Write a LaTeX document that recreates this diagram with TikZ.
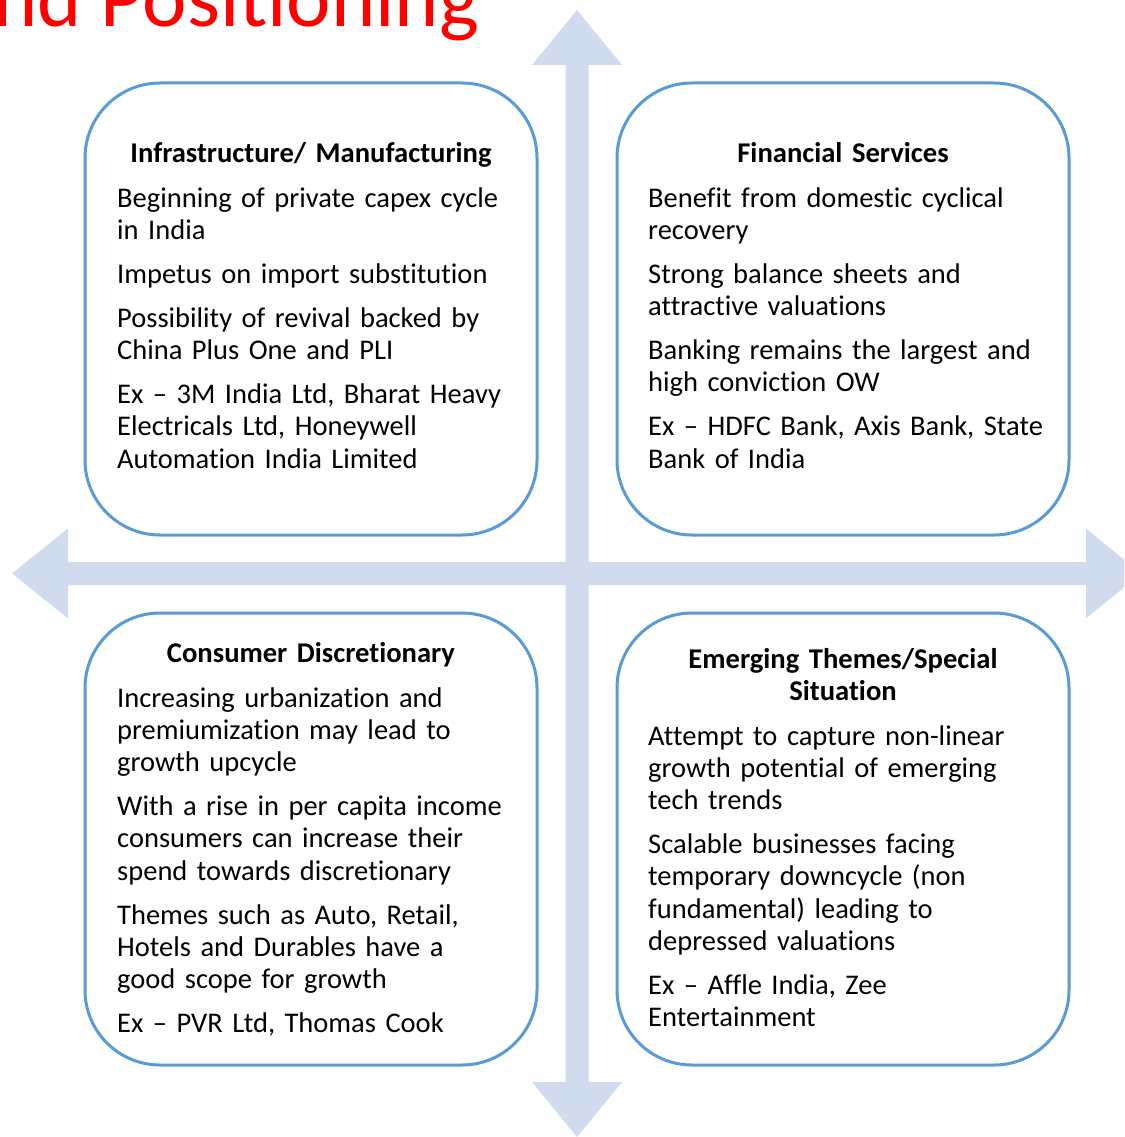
\documentclass[tikz,border=0pt]{standalone}
\usepackage{fontspec}
\setmainfont{Carlito}[Ligatures={TeX,NoCommon}]
\definecolor{arrowfill}{RGB}{208,220,238}
\definecolor{boxline}{RGB}{91,155,213}
\begin{document}
\begin{tikzpicture}[x=1pt,y=-1pt,
  quad/.style={draw=boxline, line width=3pt, rounded corners=75pt, minimum width=452pt, minimum height=452pt, inner sep=0pt, fill=white},
  head/.style={font=\bfseries\fontsize{28.6}{32.3}\selectfont, anchor=base, align=center, text width=440pt, inner sep=0pt},
  body/.style={font=\fontsize{28.5}{32.3}\selectfont, anchor=base west, align=left, text width=425pt, inner sep=0pt}]
\useasboundingbox (0,0) rectangle (1124,1137);
\begin{scope}
\clip (0,0) rectangle (1124,1137);
\node[anchor=base west, inner sep=0pt, text=red, font=\fontsize{84.3}{90}\selectfont] (title) at (-7,27) {nd Positioning};
\fill[arrowfill] (577,10) -- (622,65) -- (588.5,65) -- (588.5,562) -- (1086,562) -- (1086,528.5) -- (1141,573.5) -- (1086,618.5) -- (1086,585) -- (588.5,585) -- (588.5,1082) -- (622,1082) -- (577,1137) -- (532,1082) -- (565.5,1082) -- (565.5,585) -- (68,585) -- (68,618.5) -- (12,573.5) -- (68,528.5) -- (68,562) -- (565.5,562) -- (565.5,65) -- (532,65) -- cycle;
\end{scope}
\node[quad] (tl) at (311,309) {};
\node[quad] (tr) at (843,309) {};
\node[quad] (bl) at (311,839) {};
\node[quad] (br) at (843,839) {};
\node[head] (tlh) at (311,162) {Infrastructure/ Manufacturing};
\node[head] (trh) at (843,162) {Financial Services};
\node[head] (blh) at (311,662) {Consumer Discretionary};
\node[head] (brh) at (843,668) {Emerging Themes/Special\\Situation};
\node[body] (tlb) at (117,207) {Beginning of private capex cycle\\in India\\[11.7pt]Impetus on import substitution\\[11.7pt]Possibility of revival backed by\\China Plus One and PLI\\[11.7pt]Ex – 3M India Ltd, Bharat Heavy\\Electricals Ltd, Honeywell\\Automation India Limited};
\node[body] (trb) at (648,207) {Benefit from domestic cyclical\\recovery\\[11.7pt]Strong balance sheets and\\attractive valuations\\[11.7pt]Banking remains the largest and\\high conviction OW\\[11.7pt]Ex – HDFC Bank, Axis Bank, State\\Bank of India};
\node[body] (blb) at (117,707) {Increasing urbanization and\\premiumization may lead to\\growth upcycle\\[11.7pt]With a rise in per capita income\\consumers can increase their\\spend towards discretionary\\[11.7pt]Themes such as Auto, Retail,\\Hotels and Durables have a\\good scope for growth\\[11.7pt]Ex – PVR Ltd, Thomas Cook};
\node[body] (brb) at (648,745) {Attempt to capture non-linear\\growth potential of emerging\\tech trends\\[11.7pt]Scalable businesses facing\\temporary downcycle (non\\fundamental) leading to\\depressed valuations\\[11.7pt]Ex – Affle India, Zee\\Entertainment};
\end{tikzpicture}
\end{document}
